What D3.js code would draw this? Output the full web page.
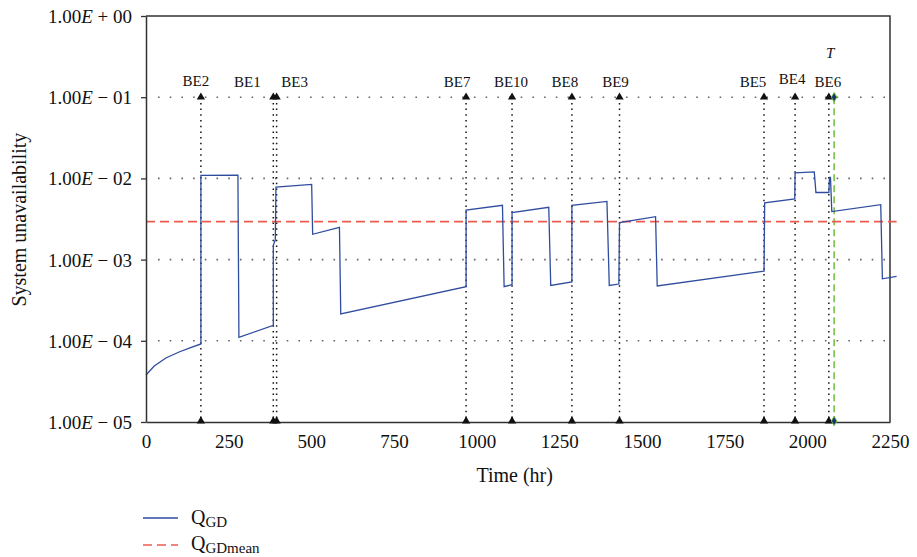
<!DOCTYPE html>
<html>
    <head>
        <title>System unavailability</title>
        <script src="https://d3js.org/d3.v7.min.js"></script>
        <style>
            body { margin: 0; background: #fff; overflow: hidden; }
            svg { display: block; }
            text { font-family: "Liberation Serif", "DejaVu Serif", serif; fill: #111; }
            .tick-label { font-size: 19px; }
            .axis-label { font-size: 20px; }
            .event-label { font-size: 15px; }
        </style>
    </head>
    <body>
        <svg id="chart" width="917" height="557"></svg>
    </body>
    <script>
        // values
        const timeTicks = [0, 250, 500, 750, 1000, 1250, 1500, 1750, 2000, 2250];
        const decadeTicks = [1, 1e-1, 1e-2, 1e-3, 1e-4, 1e-5];
        const decadeLabels = ['00', '01', '02', '03', '04', '05'];
        const gridDecades = [1e-1, 1e-2, 1e-3, 1e-4];

        const eventNames = ['BE2', 'BE1', 'BE3', 'BE7', 'BE10', 'BE8', 'BE9', 'BE5', 'BE4', 'BE6'];
        const eventTimes = [166, 385, 395, 968, 1107, 1288, 1432, 1869, 1963, 2065];
        const missionTime = 2081;   // T
        const meanValue = 2.93e-3;  // Q_GDmean

        const curveTime = [0, 25, 60, 100, 135, 166, 166, 278, 281, 385, 385, 391, 393, 501, 504, 585, 589,
            968, 968, 1078, 1083, 1107, 1107, 1218, 1224, 1288, 1288, 1394, 1401, 1430, 1432, 1541, 1546,
            1869, 1871, 1962, 1963, 2021, 2026, 2065, 2067, 2070, 2074, 2222, 2227, 2270];
        const curveValue = [3.79e-5, 4.90e-5, 6.14e-5, 7.28e-5, 8.26e-5, 9.14e-5, 1.09e-2, 1.10e-2, 1.10e-4, 1.55e-4, 1.50e-3, 1.74e-3, 7.8e-3, 8.45e-3, 2.05e-3, 2.5e-3, 2.14e-4,
            4.65e-4, 4.07e-3, 4.66e-3, 4.65e-4, 4.9e-4, 3.8e-3, 4.4e-3, 4.8e-4, 5.3e-4, 4.66e-3, 5.2e-3, 4.8e-4, 5.0e-4, 2.85e-3, 3.38e-3, 4.73e-4,
            7.2e-4, 5.0e-3, 5.6e-3, 1.17e-2, 1.2e-2, 6.7e-3, 6.7e-3, 1.03e-2, 1.03e-2, 3.9e-3, 4.75e-3, 5.8e-4, 6.2e-4];

        const svg = d3.select('#chart');
        const width = 917, height = 557;
        const margin = { top: 16, bottom: 135, right: 27, left: 146 };
        const innerWidth = width - margin.left - margin.right;
        const innerHeight = height - margin.top - margin.bottom;

        const xScale = d3.scaleLinear().domain([0, 2250]).range([0, innerWidth]);
        const yScale = d3.scaleLog().domain([1e-5, 1]).range([innerHeight, 0]);

        const g = svg.append('g').attr('transform', `translate(${margin.left},${margin.top})`);

        // dotted horizontal grid
        g.selectAll('.grid').data(gridDecades).enter().append('line')
            .attr('x1', 12).attr('x2', innerWidth)
            .attr('y1', d => yScale(d)).attr('y2', d => yScale(d))
            .attr('stroke', '#666').attr('stroke-width', 1.6)
            .attr('stroke-dasharray', '1.6 10.1');

        // frame top and right
        g.append('path')
            .attr('d', `M0,0H${innerWidth}V${innerHeight}`)
            .attr('fill', 'none').attr('stroke', '#333').attr('stroke-width', 1.5);

        // event lines
        const events = eventNames.map((n, i) => ({ name: n, t: eventTimes[i] }));
        g.selectAll('.event').data(events).enter().append('line')
            .attr('x1', d => xScale(d.t)).attr('x2', d => xScale(d.t))
            .attr('y1', yScale(1e-1)).attr('y2', innerHeight)
            .attr('stroke', '#111').attr('stroke-width', 1.5)
            .attr('stroke-dasharray', '1.5 4.2');

        // mission time T
        g.append('line')
            .attr('x1', xScale(missionTime)).attr('x2', xScale(missionTime))
            .attr('y1', yScale(1e-1)).attr('y2', innerHeight)
            .attr('stroke', '#6cbf3a').attr('stroke-width', 1.5)
            .attr('stroke-dasharray', '7 4');

        // mean line
        g.append('line')
            .attr('x1', xScale(0)).attr('x2', xScale(2270))
            .attr('y1', yScale(meanValue)).attr('y2', yScale(meanValue))
            .attr('stroke', '#ec5b50').attr('stroke-width', 1.7)
            .attr('stroke-dasharray', '9 5');

        // Q_GD curve
        const line = d3.line().x(d => xScale(d[0])).y(d => yScale(d[1]));
        g.append('path')
            .datum(curveTime.map((t, i) => [t, curveValue[i]]))
            .attr('d', line)
            .attr('fill', 'none').attr('stroke', '#2f4c9f').attr('stroke-width', 1.3);

        // axes
        const yAxis = d3.axisLeft(yScale).tickValues(decadeTicks).tickSize(5).tickSizeOuter(0).tickPadding(9);
        const ya = g.append('g').call(yAxis);
        ya.select('.domain').attr('stroke', '#333').attr('stroke-width', 1.5);
        ya.selectAll('.tick line').attr('stroke', '#333').attr('stroke-width', 1.3);
        ya.selectAll('.tick text').attr('class', 'tick-label').attr('dy', '0.34em')
            .each(function(d, i) {
                const t = d3.select(this).text(null);
                t.append('tspan').text('1.00');
                t.append('tspan').attr('font-style', 'italic').text('E');
                t.append('tspan').text(i === 0 ? ' + ' + decadeLabels[i] : ' \u2212 ' + decadeLabels[i]);
            });

        const xAxis = d3.axisBottom(xScale).tickValues(timeTicks).tickSize(0).tickSizeOuter(0)
            .tickFormat(d3.format('d'));
        const xa = g.append('g').attr('transform', `translate(0,${innerHeight})`).call(xAxis);
        xa.select('.domain').attr('stroke', '#333').attr('stroke-width', 1.5);
        xa.selectAll('.tick text').attr('class', 'tick-label').attr('y', 26).attr('dy', 0);

        // event markers
        const tri = d3.symbol(d3.symbolTriangle, 30);
        [yScale(1e-1), innerHeight - 1].forEach(yy => {
            g.selectAll(null).data(events).enter().append('path')
                .attr('d', tri)
                .attr('transform', d => `translate(${xScale(d.t)},${yy})`)
                .attr('fill', '#111');
            g.append('path')
                .attr('d', d3.symbol(d3.symbolDiamond, 26))
                .attr('transform', `translate(${xScale(missionTime)},${yy})`)
                .attr('fill', '#1d2f7a').attr('stroke', '#6cbf3a').attr('stroke-width', 1);
        });

        // event labels
        const labelDx = { BE2: -5, BE1: -26, BE3: 18, BE7: -9, BE10: -1, BE8: -7, BE9: -4, BE5: -11, BE4: -3, BE6: -1 };
        const labelDy = { BE4: -3, BE2: -1 };
        g.selectAll('.event-label').data(events).enter().append('text')
            .attr('class', 'event-label')
            .attr('text-anchor', 'middle')
            .attr('x', d => xScale(d.t) + labelDx[d.name])
            .attr('y', d => yScale(1e-1) - 10 + (labelDy[d.name] || 0))
            .text(d => d.name);
        g.append('text').attr('class', 'event-label')
            .attr('text-anchor', 'middle').attr('font-style', 'italic')
            .attr('x', xScale(missionTime) - 4).attr('y', 42)
            .text('T');

        // axis titles
        g.append('text').attr('class', 'axis-label')
            .attr('text-anchor', 'middle')
            .attr('x', xScale(1115)).attr('y', innerHeight + 60)
            .text('Time (hr)');
        g.append('text').attr('class', 'axis-label')
            .attr('text-anchor', 'middle')
            .attr('transform', 'rotate(-90)')
            .attr('x', -(yScale(1e-3) - 40)).attr('y', -120)
            .text('System unavailability');

        // legend
        const lg = svg.append('g').attr('transform', 'translate(143,518)');
        lg.append('line').attr('x1', 0).attr('x2', 35).attr('y1', 0).attr('y2', 0)
            .attr('stroke', '#2f4c9f').attr('stroke-width', 1.3);
        lg.append('line').attr('x1', 0).attr('x2', 35).attr('y1', 27).attr('y2', 27)
            .attr('stroke', '#ec5b50').attr('stroke-width', 1.7).attr('stroke-dasharray', '9 5');
        const lt1 = lg.append('text').attr('x', 48).attr('y', 6).style('font-size', '20px');
        lt1.append('tspan').text('Q');
        lt1.append('tspan').attr('dy', 3).style('font-size', '15px').text('GD');
        const lt2 = lg.append('text').attr('x', 48).attr('y', 32).style('font-size', '20px');
        lt2.append('tspan').text('Q');
        lt2.append('tspan').attr('dy', 3).style('font-size', '15px').text('GDmean');
    </script>
</html>
